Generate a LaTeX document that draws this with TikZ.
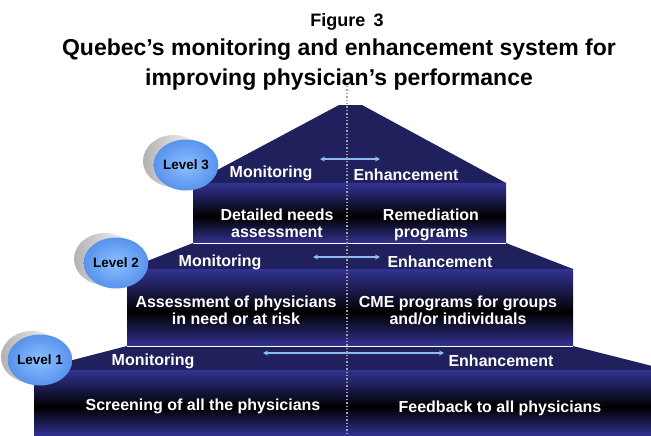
\documentclass[tikz,border=0pt]{standalone}
\usepackage{fontspec}
\setmainfont{Liberation Sans}
\usetikzlibrary{arrows.meta, shapes.geometric}
\definecolor{roofnavy}{HTML}{20205C}
\definecolor{tierblue}{HTML}{333394}
\definecolor{linkblue}{HTML}{8CBBF0}
\definecolor{divgray}{HTML}{A4A4A4}
\definecolor{lvlin}{HTML}{8CC0FF}
\definecolor{lvlout}{HTML}{5893EC}

% dark band a little below the middle of each tier
\pgfdeclareverticalshading{tiershade}{100bp}{color(0bp)=(tierblue); color(25bp)=(tierblue);
  color(47bp)=(black); color(75bp)=(tierblue); color(100bp)=(tierblue)}

\begin{document}
\begin{tikzpicture}[
  x=1pt, y=-1pt,
  font=\bfseries\fontsize{16}{17}\selectfont,
  roof/.style={fill=roofnavy},
  tier/.style={shading=tiershade},
  seam/.style={draw=white, line width=0.8pt},
  phase/.style={text=white, inner sep=0pt},
  act/.style={text=white, align=center, inner sep=0pt},
  link/.style={{Stealth[length=5pt,width=5pt]}-{Stealth[length=5pt,width=5pt]},
    draw=linkblue, line width=1.1pt},
  lvlback/.style={ellipse, draw=none, minimum width=62pt, minimum height=52pt,
    left color=gray!60, right color=white},
  lvl/.style={ellipse, draw=none, minimum width=63pt, minimum height=51pt, inner sep=0pt,
    inner color=lvlin, outer color=lvlout, text=black,
    font=\bfseries\fontsize{13.5}{14}\selectfont}
]
\clip (0,0) rectangle (651,436);

\node (fig) at (347,22) {\fontsize{18}{20}\selectfont Figure\hspace{0.45em}3};
\node[align=center, font=\bfseries\fontsize{23}{30}\selectfont] (title) at (339,65)
  {Quebec’s monitoring and enhancement system for\\improving physician’s performance};

% three tiers, top down
\fill[roof] (339,105) -- (362,105) -- (506,183) -- (193,183) -- cycle;
\shade[tier] (193,183) rectangle (506,243);
\fill[roof] (193,243) -- (506,243) -- (573,269) -- (127,269) -- cycle;
\shade[tier] (127,269) rectangle (573,346);
\fill[roof] (127,346) -- (573,346) -- (668,370) -- (34,370) -- cycle;
\shade[tier] (34,370) rectangle (668,436);
\draw[seam] (193,243) -- (506,243);
\draw[seam] (127,346) -- (573,346);

\node[phase] (mon3) at (271,173) {Monitoring};
\node[phase] (enh3) at (406,175) {Enhancement};
\node[act] (need3) at (277,223) {Detailed needs\\assessment};
\node[act] (rem3) at (431,225) {Remediation\\programs};

\node[phase] (mon2) at (220,262) {Monitoring};
\node[phase] (enh2) at (440,262) {Enhancement};
\node[act] (need2) at (236,310) {Assessment of physicians\\in need or at risk};
\node[act] (cme2) at (458,310) {CME programs for groups\\and/or individuals};

\node[phase] (mon1) at (153,361) {Monitoring};
\node[phase] (enh1) at (501,361) {Enhancement};
\node[act] (scr1) at (203,406) {Screening of all the physicians};
\node[act] (fb1) at (500,408) {Feedback to all physicians};

\coordinate (l3a) at (320,159);
\coordinate (l3b) at (380,159);
\coordinate (l2a) at (313,257);
\coordinate (l2b) at (380,257);
\coordinate (l1a) at (263,353);
\coordinate (l1b) at (444,353);
\draw[link] (l3a) -- (l3b);
\draw[link] (l2a) -- (l2b);
\draw[link] (l1a) -- (l1b);

\coordinate (divtop) at (347,86);
\coordinate (divbot) at (347,436);
\draw[divgray, dotted, line width=1.4pt] (divtop) -- (divbot);

\node[lvlback] (lvl3b) at (174,161) {};
\node[lvl] (lvl3) at (186,165) {Level 3};
\node[lvlback] (lvl2b) at (105,259) {};
\node[lvl] (lvl2) at (116,263) {Level 2};
\node[lvlback] (lvl1b) at (32,357) {};
\node[lvl] (lvl1) at (40,360) {Level 1};

\end{tikzpicture}
\end{document}
